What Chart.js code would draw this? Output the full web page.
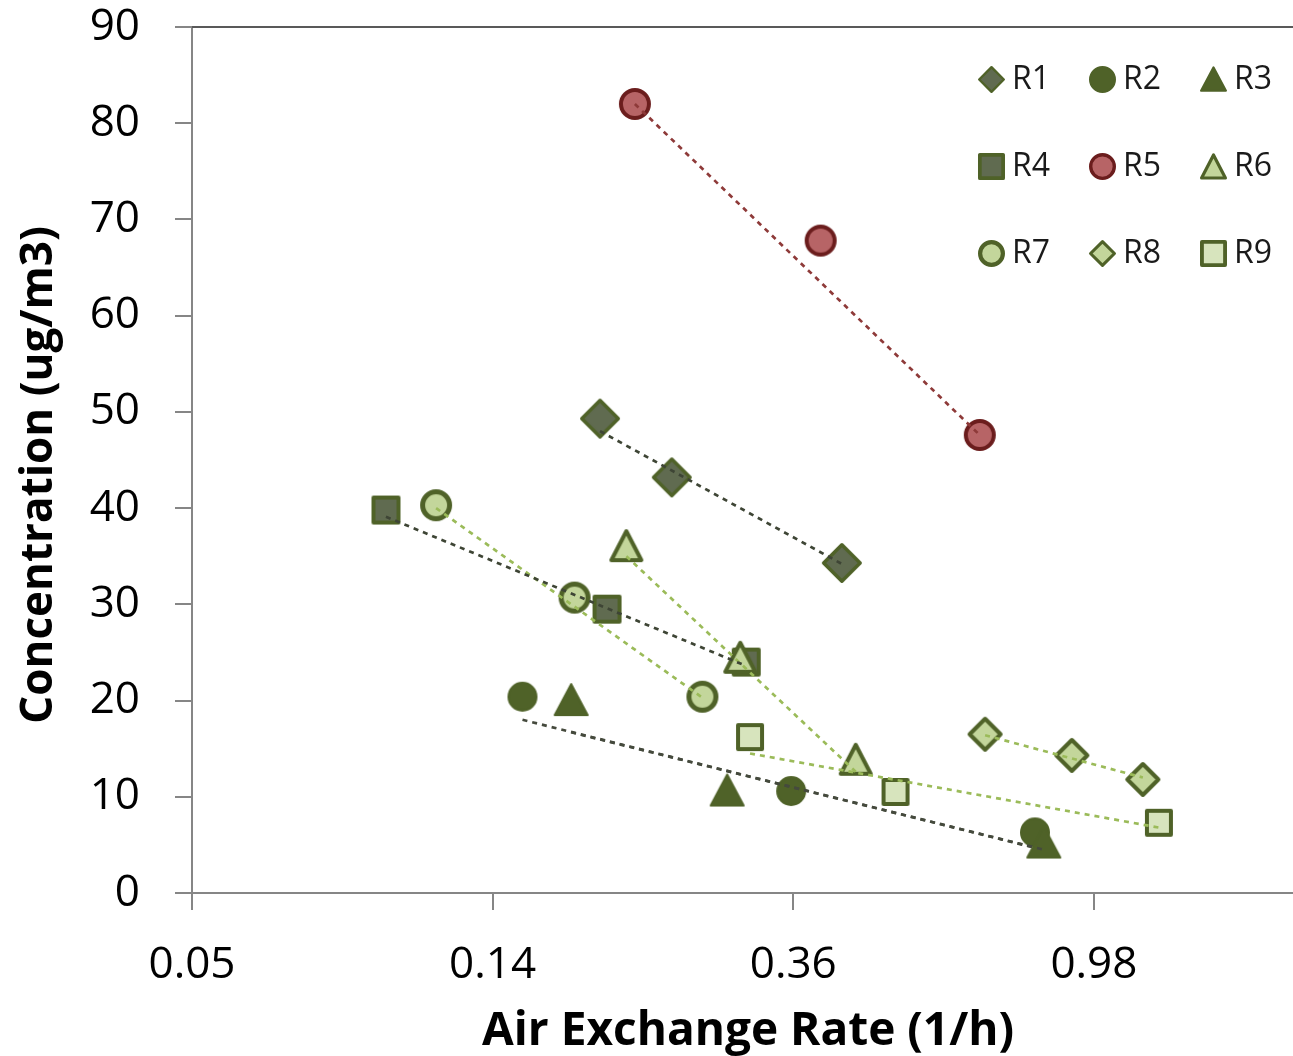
<!DOCTYPE html>
<html>
<head>
<meta charset="utf-8">
<script src="https://cdn.jsdelivr.net/npm/chart.js@4.4.0/dist/chart.umd.min.js"></script>
<style>
  html, body { margin: 0; padding: 0; background: #fff; }
  #wrap { width: 1293px; height: 1056px; }
</style>
</head>
<body>
<div id="wrap"><canvas id="chart" width="1293" height="1056"></canvas></div>
<script>
// Concentration vs. air exchange rate for rooms R1-R9, with dashed trend lines

const seriesNames = ['R1', 'R2', 'R3', 'R4', 'R5', 'R6', 'R7', 'R8', 'R9'];

// air exchange rate (1/h), three measurements per room
const airExchange = [
  [0.1925, 0.244, 0.428],
  [0.149, 0.362, 0.81],
  [0.175, 0.293, 0.834],
  [0.0949, 0.197, 0.312],
  [0.216, 0.399, 0.675],
  [0.210, 0.306, 0.448],
  [0.112, 0.177, 0.270],
  [0.687, 0.915, 1.157],
  [0.316, 0.511, 1.22]
];

// concentration (ug/m3)
const concentration = [
  [49.3, 43.2, 34.3],
  [20.4, 10.6, 6.3],
  [20.1, 10.7, 5.3],
  [39.8, 29.5, 24.0],
  [82.0, 67.8, 47.6],
  [36.1, 24.5, 13.9],
  [40.3, 30.7, 20.4],
  [16.5, 14.3, 11.8],
  [16.2, 10.5, 7.3]
];

// trend line value at the first and last rate of each room
const trendStart = [48.0, 18.0, 16.7, 39.1, 82.0, 35.0, 40.0, 16.4, 14.5];
const trendEnd = [34.2, 4.7, 4.5, 23.6, 47.6, 12.6, 20.3, 12.0, 6.8];

// log axis steps by a factor of 2.7 from 0.05
const xTickValues = [0.05, 0.135, 0.3645, 0.98415];
const xTickLabels = ['0.05', '0.14', '0.36', '0.98'];
const yTickStep = 10;

const xTitle = 'Air Exchange Rate (1/h)';
const yTitle = 'Concentration (ug/m3)';

const FONT = "'Open Sans', 'DejaVu Sans', sans-serif";
const OLIVE = '#4f6228';
const DARK_FILL = '#606b50';
const LIGHT_FILL = '#c3d69b';
const PALE_FILL = '#d7e4bd';

// marker look per room: shape, outer width/height, fill, outline
const markerStyles = [
  { shape: 'diamond', w: 40, h: 40, fill: DARK_FILL, stroke: OLIVE, lw: 3.5 },
  { shape: 'circle', w: 30, h: 30, fill: OLIVE, stroke: OLIVE, lw: 2 },
  { shape: 'triangle', w: 35, h: 33, fill: OLIVE, stroke: OLIVE, lw: 2 },
  { shape: 'square', w: 29, h: 29, fill: DARK_FILL, stroke: OLIVE, lw: 4 },
  { shape: 'circle', w: 32, h: 32, fill: '#b76466', stroke: '#6b1d1d', lw: 4 },
  { shape: 'triangle', w: 34, h: 33, fill: LIGHT_FILL, stroke: OLIVE, lw: 4 },
  { shape: 'circle', w: 32, h: 32, fill: LIGHT_FILL, stroke: OLIVE, lw: 5 },
  { shape: 'diamond', w: 35, h: 35, fill: LIGHT_FILL, stroke: OLIVE, lw: 4 },
  { shape: 'square', w: 28, h: 28, fill: PALE_FILL, stroke: OLIVE, lw: 4 }
];

const trendColors = ['#3e4535', '#454a3d', '#454a3d', '#3e4535', '#8e3a39',
  '#9bbb59', '#9bbb59', '#9bbb59', '#9bbb59'];

// draw a marker into its own small canvas so it can be used as a pointStyle
function makeMarker(st, scale) {
  const w = st.w * scale, h = st.h * scale, lw = Math.max(2, st.lw * scale);
  const c = document.createElement('canvas');
  c.width = Math.ceil(w) + 2;
  c.height = Math.ceil(h) + 2;
  const ctx = c.getContext('2d');
  const cx = c.width / 2, cy = c.height / 2;
  const hw = w / 2 - lw / 2, hh = h / 2 - lw / 2;
  ctx.beginPath();
  if (st.shape === 'circle') {
    ctx.arc(cx, cy, hw, 0, Math.PI * 2);
  } else if (st.shape === 'square') {
    ctx.rect(cx - hw, cy - hh, hw * 2, hh * 2);
  } else if (st.shape === 'diamond') {
    ctx.moveTo(cx, cy - hh);
    ctx.lineTo(cx + hw, cy);
    ctx.lineTo(cx, cy + hh);
    ctx.lineTo(cx - hw, cy);
    ctx.closePath();
  } else {
    ctx.moveTo(cx, cy - hh);
    ctx.lineTo(cx + hw, cy + hh);
    ctx.lineTo(cx - hw, cy + hh);
    ctx.closePath();
  }
  ctx.fillStyle = st.fill;
  ctx.fill();
  ctx.lineJoin = 'round';
  ctx.lineWidth = lw;
  ctx.strokeStyle = st.stroke;
  ctx.stroke();
  return c;
}

const plotMarkers = markerStyles.map(st => makeMarker(st, 1));
const legendMarkers = markerStyles.map(st => makeMarker(st, 27 / st.w));

// build datasets: markers plus a two-point dashed trend line per room
const datasets = [];
seriesNames.forEach((name, i) => {
  const xs = airExchange[i];
  datasets.push({
    label: name + ' trend',
    data: [
      { x: xs[0], y: trendStart[i] },
      { x: xs[xs.length - 1], y: trendEnd[i] }
    ],
    showLine: true,
    borderColor: trendColors[i],
    borderWidth: 2.7,
    borderDash: [5, 5],
    pointRadius: 0,
    order: 0
  });
  datasets.push({
    label: name,
    data: xs.map((x, j) => ({ x: x, y: concentration[i][j] })),
    showLine: false,
    pointStyle: plotMarkers[i],
    pointRadius: 16,
    pointHoverRadius: 16,
    order: 20 - i
  });
});

// top frame line, axis titles and the 3 x 3 legend inside the plot
const framePlugin = {
  id: 'frameAndLegend',
  afterDraw(chart) {
    const ctx = chart.ctx;
    const area = chart.chartArea;
    ctx.save();
    ctx.strokeStyle = '#595959';
    ctx.lineWidth = 2;
    ctx.beginPath();
    ctx.moveTo(area.left, area.top);
    ctx.lineTo(area.right, area.top);
    ctx.stroke();

    ctx.fillStyle = '#000';
    ctx.textAlign = 'center';
    ctx.textBaseline = 'middle';
    ctx.font = 'bold 46px ' + FONT;
    ctx.fillText(xTitle, 748, 1032);
    ctx.save();
    ctx.translate(39, 475);
    ctx.rotate(-Math.PI / 2);
    ctx.font = 'bold 44px ' + FONT;
    ctx.fillText(yTitle, 0, 0);
    ctx.restore();

    const colX = [991, 1102, 1213];
    const rowY = [79, 166, 253];
    ctx.font = '32px ' + FONT;
    ctx.fillStyle = '#1a1a1a';
    ctx.textAlign = 'left';
    seriesNames.forEach((name, i) => {
      const x = colX[i % 3], y = rowY[Math.floor(i / 3)];
      const m = legendMarkers[i];
      ctx.drawImage(m, Math.round(x - m.width / 2), Math.round(y - m.height / 2));
      ctx.fillText(name, x + 21, y + 1);
    });
    ctx.restore();
  }
};

// keep the plot area fixed: no extra room reserved for edge tick labels
function noEdgePadding(scale) {
  scale.paddingTop = 0;
  scale.paddingBottom = 0;
  scale.paddingLeft = 0;
  scale.paddingRight = 0;
}

new Chart(document.getElementById('chart'), {
  type: 'scatter',
  data: { datasets: datasets },
  plugins: [framePlugin],
  options: {
    responsive: false,
    animation: false,
    devicePixelRatio: 1,
    layout: { autoPadding: false, padding: { top: 27, right: 0, left: 0, bottom: 0 } },
    plugins: {
      legend: { display: false },
      tooltip: { enabled: false }
    },
    scales: {
      x: {
        type: 'logarithmic',
        min: 0.05,
        max: 1.9,
        afterBuildTicks: (scale) => {
          scale.ticks = xTickValues.map(v => ({ value: v }));
        },
        afterFit: (scale) => { scale.height = 163; noEdgePadding(scale); },
        ticks: {
          autoSkip: false,
          maxRotation: 0,
          color: '#000',
          padding: 29,
          font: { family: FONT, size: 44 },
          callback: (value, index) => xTickLabels[index]
        },
        grid: { drawOnChartArea: false, tickLength: 17, color: '#868686', lineWidth: 2 },
        border: { color: '#868686', width: 2 },
        title: { display: false }
      },
      y: {
        min: 0,
        max: 90,
        afterFit: (scale) => { scale.width = 192; noEdgePadding(scale); },
        ticks: {
          stepSize: yTickStep,
          color: '#000',
          padding: 35,
          font: { family: FONT, size: 44 }
        },
        grid: { drawOnChartArea: false, tickLength: 17, color: '#868686', lineWidth: 2 },
        border: { color: '#868686', width: 2 },
        title: { display: false }
      }
    }
  }
});
</script>
</body>
</html>
